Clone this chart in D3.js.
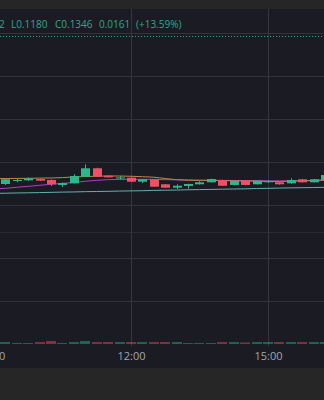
<!DOCTYPE html>
<html>
<head>
<meta charset="utf-8">
<script src="https://cdn.jsdelivr.net/npm/d3@7"></script>
<style>
  html, body { margin: 0; padding: 0; background: #262626; }
  svg { display: block; }
  text { font-family: "Open Sans", "Noto Sans", sans-serif; }
</style>
</head>
<body>
<svg id="drawing_region"></svg>
<script>
// 15 minute candles
const times = ["09:15","09:30","09:45","10:00","10:15","10:30","10:45","11:00","11:15","11:30",
               "11:45","12:00","12:15","12:30","12:45","13:00","13:15","13:30","13:45","14:00",
               "14:15","14:30","14:45","15:00","15:15","15:30","15:45","16:00","16:15"];
const opens  = [0.11744,0.11779,0.11787,0.11802,0.11791,0.11733,0.11752,0.11829,0.11927,0.11841,
                0.11814,0.11817,0.11771,0.11799,0.11741,0.11701,0.11721,0.11741,0.11764,0.11791,
                0.11733,0.11783,0.11741,0.11767,0.11764,0.11752,0.11799,0.11764,0.11791];
const highs  = [0.11808,0.11802,0.11820,0.11806,0.11797,0.11762,0.11857,0.11973,0.11934,0.11845,
                0.11837,0.11822,0.11802,0.11802,0.11744,0.11741,0.11748,0.11776,0.11806,0.11794,
                0.11783,0.11785,0.11787,0.11785,0.11767,0.11810,0.11802,0.11802,0.11855];
const lows   = [0.11733,0.11764,0.11779,0.11779,0.11721,0.11709,0.11750,0.11826,0.11826,0.11819,
                0.11797,0.11767,0.11756,0.11709,0.11698,0.11686,0.11690,0.11738,0.11762,0.11721,
                0.11729,0.11729,0.11738,0.11759,0.11736,0.11750,0.11762,0.11762,0.11787];
const closes = [0.11799,0.11791,0.11810,0.11783,0.11741,0.11756,0.11837,0.11927,0.11829,0.11822,
                0.11820,0.11771,0.11799,0.11713,0.11701,0.11724,0.11744,0.11764,0.11802,0.11724,
                0.11779,0.11733,0.11783,0.11776,0.11741,0.11791,0.11764,0.11799,0.11849];
const volumes = [46,23,23,46,70,23,46,70,46,46,46,46,46,46,46,46,23,23,23,46,46,35,46,46,46,46,46,46,46];

// moving averages, first point is 09:00
const maTimes = ["09:00"].concat(times);
const maFast = [0.11807,0.11808,0.11809,0.11810,0.11813,0.11814,0.11819,0.11826,0.11831,0.11835,
                0.11837,0.11837,0.11834,0.11829,0.11823,0.11808,0.11794,0.11788,0.11787,0.11786,
                0.11784,0.11781,0.11779,0.11777,0.11774,0.11774,0.11778,0.11781,0.11786,0.11791];
const maMid  = [0.11686,0.11694,0.11706,0.11717,0.11729,0.11741,0.11751,0.11762,0.11776,0.11787,
                0.11795,0.11798,0.11799,0.11799,0.11798,0.11795,0.11793,0.11791,0.11788,0.11787,
                0.11786,0.11785,0.11784,0.11783,0.11781,0.11780,0.11780,0.11781,0.11784,0.11786];
const maSlow = [0.11635,0.11637,0.11640,0.11642,0.11644,0.11647,0.11650,0.11652,0.11655,0.11657,
                0.11659,0.11662,0.11664,0.11666,0.11670,0.11672,0.11674,0.11677,0.11679,0.11681,
                0.11684,0.11686,0.11688,0.11692,0.11694,0.11697,0.11699,0.11701,0.11703,0.11706];

const priceTicks = [0.135, 0.130, 0.125, 0.120, 0.115];
const volumeTicks = [1000, 2000];
const timeTicks = ["09:00", "12:00", "15:00"];
const lastPrice = 0.1346;
const legend = [["2", -1], ["L0.1180", 11], ["C0.1346", 55], ["0.0161", 99], ["(+13.59%)", 136]];

const parseTime = d3.timeParse("%H:%M");

class CandleChart {
    constructor( config ) {
        this.config = config;
        this.init();
    }
    init() {
        let self = this;
        self.svg = d3.select( self.config.parent )
            .attr('width', self.config.width)
            .attr('height', self.config.height);

        self.xscale = d3.scaleTime()
            .domain([parseTime("09:00"), parseTime("17:00")])
            .range([-6, 359.33]);
        self.yscale = d3.scaleLinear()
            .domain([0.115, 0.130])
            .range([205, 76]);
        self.vscale = d3.scaleLinear()
            .domain([0, 2600])
            .range([344, 232]);
    }
    render() {
        let self = this;
        const up = '#2bb98b', down = '#ef5066';
        const grid = '#31323a';

        // backgrounds
        self.svg.append('rect').attr('x', 0).attr('y', 0).attr('width', 324).attr('height', 400).attr('fill', '#262626');
        self.svg.append('rect').attr('x', 0).attr('y', 9).attr('width', 324).attr('height', 359).attr('fill', '#1b1c23');

        // grid
        self.svg.selectAll('.hgrid').data(priceTicks).enter().append('line')
            .attr('x1', 0).attr('x2', 324)
            .attr('y1', d => Math.round(self.yscale(d)) + 0.5)
            .attr('y2', d => Math.round(self.yscale(d)) + 0.5)
            .attr('stroke', grid);
        self.svg.append('line')
            .attr('x1', 0).attr('x2', 324).attr('y1', 232.5).attr('y2', 232.5)
            .attr('stroke', '#2a2b32');
        self.svg.selectAll('.vgrid').data(volumeTicks).enter().append('line')
            .attr('x1', 0).attr('x2', 324)
            .attr('y1', d => Math.round(self.vscale(d)) + 0.5)
            .attr('y2', d => Math.round(self.vscale(d)) + 0.5)
            .attr('stroke', grid);
        self.svg.selectAll('.tgrid').data(timeTicks).enter().append('line')
            .attr('x1', d => Math.round(self.xscale(parseTime(d))) + 0.5)
            .attr('x2', d => Math.round(self.xscale(parseTime(d))) + 0.5)
            .attr('y1', 9).attr('y2', 346)
            .attr('stroke', '#35363d');

        // last price dotted line
        self.svg.append('line')
            .attr('x1', 0).attr('x2', 324)
            .attr('y1', Math.round(self.yscale(lastPrice)) + 0.5)
            .attr('y2', Math.round(self.yscale(lastPrice)) + 0.5)
            .attr('stroke', '#26a69a').attr('stroke-dasharray', '1,2');

        const candles = times.map((t, i) => ({
            t: parseTime(t), o: opens[i], h: highs[i], l: lows[i], c: closes[i], v: volumes[i]
        }));

        // volume
        self.svg.selectAll('.vol').data(candles).enter().append('rect')
            .attr('x', d => Math.round(self.xscale(d.t) - 5))
            .attr('width', 10)
            .attr('y', d => self.vscale(d.v))
            .attr('height', d => 344 - self.vscale(d.v))
            .attr('fill', d => d.c >= d.o ? up : down)
            .attr('opacity', 0.45);

        // moving averages
        const line = arr => d3.line()
            .x((d, i) => self.xscale(parseTime(maTimes[i])))
            .y(d => self.yscale(d))
            .curve(d3.curveMonotoneX)(arr);
        self.svg.append('path').attr('d', line(maSlow)).attr('fill', 'none').attr('stroke', '#5fb2b0').attr('stroke-width', 1);
        self.svg.append('path').attr('d', line(maMid)).attr('fill', 'none').attr('stroke', '#b03fc0').attr('stroke-width', 1);
        self.svg.append('path').attr('d', line(maFast)).attr('fill', 'none').attr('stroke', '#b8884a').attr('stroke-width', 1);

        // candles
        const g = self.svg.selectAll('.candle').data(candles).enter().append('g');
        g.append('line')
            .attr('x1', d => Math.round(self.xscale(d.t)) + 0.5)
            .attr('x2', d => Math.round(self.xscale(d.t)) + 0.5)
            .attr('y1', d => self.yscale(d.h))
            .attr('y2', d => self.yscale(d.l))
            .attr('stroke', d => d.c >= d.o ? up : down);
        g.append('rect')
            .attr('x', d => Math.round(self.xscale(d.t)) - 4)
            .attr('width', 9)
            .attr('y', d => self.yscale(Math.max(d.o, d.c)))
            .attr('height', d => Math.max(1, self.yscale(Math.min(d.o, d.c)) - self.yscale(Math.max(d.o, d.c))))
            .attr('fill', d => d.c >= d.o ? up : down);

        // time axis
        const xaxis = d3.axisBottom( self.xscale )
            .tickValues(timeTicks.map(parseTime))
            .tickFormat(d3.timeFormat("%-H:%M"))
            .tickSize(0)
            .tickPadding(7);
        const ax = self.svg.append('g')
            .attr('transform', 'translate(0, 345)')
            .call( xaxis );
        ax.select('.domain').remove();
        ax.selectAll('text').attr('fill', '#a2a5ad').attr('font-size', 11)
            .attr('font-family', '"Open Sans", "Noto Sans", sans-serif');

        // legend
        self.svg.append('text')
            .attr('y', 27.5)
            .attr('font-size', 10)
            .attr('fill', '#29a88f')
            .selectAll('tspan').data(legend).enter().append('tspan')
            .attr('x', d => d[1])
            .text(d => d[0]);
    }
}

const chart = new CandleChart({ parent: '#drawing_region', width: 324, height: 400 });
chart.render();
</script>
</body>
</html>
